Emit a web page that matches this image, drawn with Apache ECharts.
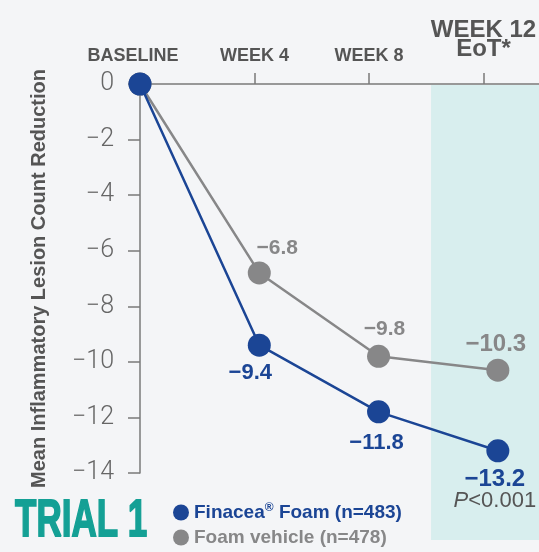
<!DOCTYPE html>
<html>
<head>
<meta charset="utf-8">
<script src="https://cdn.jsdelivr.net/npm/echarts@6/dist/echarts.min.js"></script>
<style>
  html, body { margin: 0; padding: 0; background: #f4f5f7; }
  #chart { width: 539px; height: 552px; }
</style>
</head>
<body>
<div id="chart"></div>
<script>
// Visit labels along the top axis (second line only for the end-of-treatment visit)
const categories = ['BASELINE', 'WEEK 4', 'WEEK 8', 'WEEK 12'];
const categorySubtitles = ['', '', '', 'EoT*'];

// Mean change in inflammatory lesion count at each visit
const finaceaFoam = [0, -9.4, -11.8, -13.2];
const foamVehicle = [0, -6.8, -9.8, -10.3];

// Y axis tick values
const yTicks = [0, -2, -4, -6, -8, -10, -12, -14];

const seriesNames = ['Finacea\u00AE Foam (n=483)', 'Foam vehicle (n=478)'];
const pValueText = '<0.001';
const trialText = 'TRIAL 1';
const yAxisTitle = 'Mean Inflammatory Lesion Count Reduction';

// ---- styling ----
const BLUE = '#1b4595';
const GRAY = '#878788';
const TEAL = '#14a095';
const SHADE = '#d8eeee';
const AXIS = '#7a7a7a';
const TEXT_GRAY = '#555555';
const BOLD_FONT = '"Liberation Sans", Arial, sans-serif';
const LIGHT_FONT = 'Roboto, "Liberation Sans", sans-serif';
const TICK_STEP = 0.96;      // spacing of the visit ticks in x units
const X_MAX = 3.345;         // right end of the axis
const SHADE_START = 2.44;    // start of the end-of-treatment band (x units)

// label offsets relative to each marker centre
const vehicleLabelOffsets = [[0, 0], [18, -25], [6, -27], [-2, -26]];
const finaceaLabelOffsets = [[0, 0], [-9, 28], [-2, 31], [-3, 39]];

const minus = v => (v < 0 ? '\u2212' : '') + String(Math.abs(v));

const chart = echarts.init(document.getElementById('chart'), null, { renderer: 'canvas' });

function labelSize(isGray, isLast) {
  if (isLast) return 24;
  return isGray ? 21 : 22;
}

function buildData(values, offsets, color, lastRich) {
  return values.map((v, i) => {
    const isLast = i === values.length - 1;
    return {
      value: [i, v],
      label: {
        show: i > 0,
        position: 'inside',
        offset: offsets[i],
        color: color,
        fontFamily: BOLD_FONT,
        fontWeight: 'bold',
        fontSize: labelSize(color === GRAY, isLast),
        formatter: (isLast && lastRich) ? lastRich(v) : minus(v)
      }
    };
  });
}

const option = {
  backgroundColor: '#f4f5f7',
  animation: false,
  grid: { left: 140, right: 0, top: 84, bottom: 79, containLabel: false, outerBoundsMode: 'none' },
  xAxis: {
    type: 'value',
    position: 'top',
    min: 0,
    max: X_MAX,
    interval: TICK_STEP,
    splitLine: { show: false },
    axisLine: { show: true, lineStyle: { color: AXIS, width: 1.5 } },
    axisTick: { show: true, length: 11, lineStyle: { color: AXIS, width: 1.5 } },
    axisLabel: {
      show: true,
      showMaxLabel: false,
      hideOverlap: false,
      margin: 19,
      color: TEXT_GRAY,
      fontFamily: BOLD_FONT,
      fontWeight: 'bold',
      fontSize: 18,
      formatter: v => {
        const idx = Math.round(v / TICK_STEP);
        if (idx < 0 || idx >= categories.length) return '';
        if (categorySubtitles[idx]) {
          return '{big|' + categories[idx] + '}\n{big2|' + categorySubtitles[idx] + '}';
        }
        if (idx === 0) return '{base|' + categories[idx] + '}';
        return categories[idx];
      },
      rich: {
        base: { fontSize: 18, fontWeight: 'bold', fontFamily: BOLD_FONT, color: TEXT_GRAY, padding: [0, 14, 0, 0] },
        big: { fontSize: 24, fontWeight: 'bold', fontFamily: BOLD_FONT, color: TEXT_GRAY, lineHeight: 23 },
        big2: { fontSize: 24, fontWeight: 'bold', fontFamily: BOLD_FONT, color: TEXT_GRAY, lineHeight: 23, padding: [0, 0, 8, 0] }
      }
    }
  },
  yAxis: {
    type: 'value',
    min: -14,
    max: 0,
    interval: 2,
    splitLine: { show: false },
    axisLine: { show: true, lineStyle: { color: AXIS, width: 1.5 } },
    axisTick: { show: true, length: 12, lineStyle: { color: AXIS, width: 1.5 } },
    axisLabel: {
      margin: 26,
      color: '#666666',
      fontFamily: LIGHT_FONT,
      fontWeight: 300,
      fontSize: 25,
      formatter: v => (yTicks.indexOf(v) >= 0 ? minus(v) : '')
    },
    name: yAxisTitle,
    nameLocation: 'middle',
    nameRotate: 90,
    nameGap: 91,
    nameTextStyle: {
      color: TEXT_GRAY,
      fontFamily: BOLD_FONT,
      fontWeight: 'bold',
      fontSize: 20
    }
  },
  legend: {
    orient: 'vertical',
    left: 173,
    top: 502,
    itemWidth: 16,
    itemHeight: 16,
    itemGap: 4,
    padding: 0,
    icon: 'circle',
    textStyle: { fontFamily: BOLD_FONT, fontWeight: 'bold', fontSize: 19, lineHeight: 21 },
    formatter: name => name.replace('\u00AE', '{sup|\u00AE}'),
    data: [
      { name: seriesNames[0], itemStyle: { color: BLUE },
        textStyle: { color: BLUE, rich: { sup: { color: BLUE, fontSize: 12, fontFamily: BOLD_FONT, fontWeight: 'bold', padding: [0, 0, 9, 0] } } } },
      { name: seriesNames[1], itemStyle: { color: GRAY },
        textStyle: { color: GRAY } }
    ]
  },
  series: [
    {
      name: seriesNames[1],
      type: 'line',
      z: 3,
      symbol: 'circle',
      symbolSize: 23,
      itemStyle: { color: GRAY },
      lineStyle: { color: GRAY, width: 2.5 },
      data: buildData(foamVehicle, vehicleLabelOffsets, GRAY, null)
    },
    {
      name: seriesNames[0],
      type: 'line',
      z: 4,
      symbol: 'circle',
      symbolSize: 23,
      itemStyle: { color: BLUE },
      lineStyle: { color: BLUE, width: 2.5 },
      data: buildData(finaceaFoam, finaceaLabelOffsets, BLUE,
        v => '{v|' + minus(v) + '}\n{pi|P}{pr|' + pValueText + '}'),
      label: {
        rich: {
          v: { fontSize: 24, fontWeight: 'bold', fontFamily: BOLD_FONT, color: BLUE, lineHeight: 22, align: 'center' },
          pi: { fontSize: 22, fontWeight: 'normal', fontStyle: 'italic', fontFamily: BOLD_FONT, color: TEXT_GRAY, lineHeight: 20 },
          pr: { fontSize: 22, fontWeight: 'normal', fontFamily: BOLD_FONT, color: TEXT_GRAY, lineHeight: 20 }
        }
      }
    }
  ]
};

chart.setOption(option);

// End-of-treatment band and trial tag, placed from the axis scales
const bandLeft = chart.convertToPixel({ xAxisIndex: 0 }, SHADE_START);
const bandTop = chart.convertToPixel({ yAxisIndex: 0 }, 0);
chart.setOption({
  graphic: [
    {
      type: 'rect',
      z: -10,
      silent: true,
      shape: { x: bandLeft, y: bandTop + 1, width: 539 - bandLeft, height: 540 - bandTop - 1 },
      style: { fill: SHADE }
    },
    {
      type: 'text',
      x: 15,
      y: 548,
      scaleY: 1.5,
      silent: true,
      style: {
        text: trialText,
        fill: TEAL,
        stroke: TEAL,
        lineWidth: 1.2,
        font: 'bold 35px ' + BOLD_FONT,
        verticalAlign: 'bottom'
      }
    }
  ]
});
</script>
</body>
</html>
